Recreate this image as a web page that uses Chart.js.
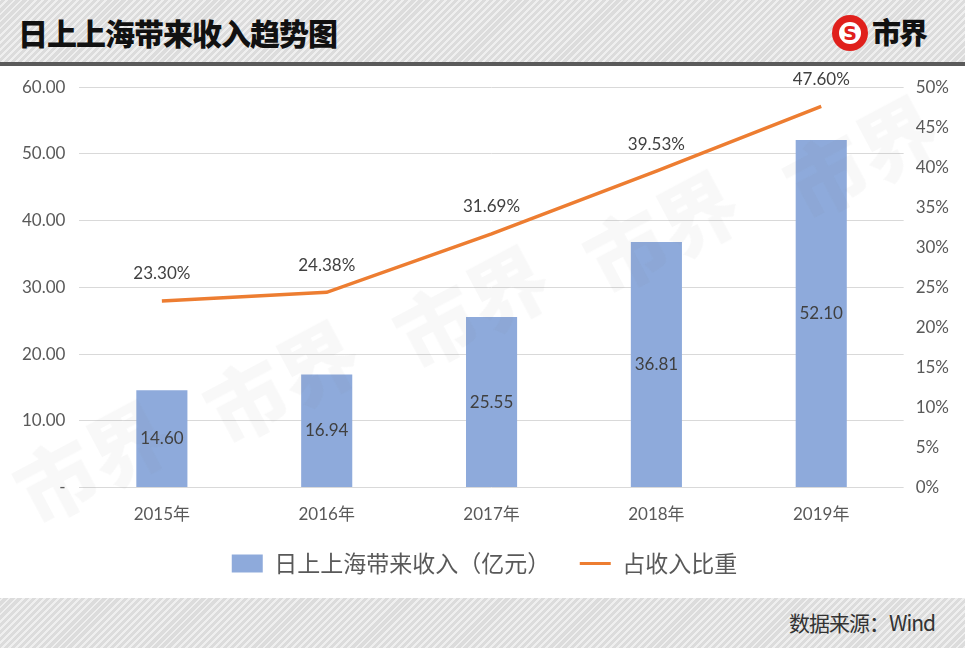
<!DOCTYPE html>
<html>
<head>
<meta charset="utf-8">
<script src="https://cdn.jsdelivr.net/npm/chart.js@4.4.0/dist/chart.umd.min.js"></script>
<style>
  html, body { margin: 0; padding: 0; width: 965px; height: 648px; overflow: hidden; background: #fff; }
  .stripes {
    background-color: #dcdcdc;
    background-image: repeating-linear-gradient(-45deg, rgba(255,255,255,0.55) 0px, rgba(255,255,255,0.55) 2px, rgba(0,0,0,0) 2px, rgba(0,0,0,0) 5px);
  }
  #head { position: absolute; left: 0; top: 0; width: 965px; height: 62px; border-bottom: 4px solid #5a5a5a; }
  #title { position: absolute; left: 18px; top: 10px; font: 900 30px "Noto Sans CJK SC", sans-serif; color: #111; letter-spacing: -1px; }
  #logo { position: absolute; left: 832px; top: 15px; height: 36px; }
  #logo .c { position: absolute; left: 0; top: 0; width: 36px; height: 36px; border-radius: 50%; background: #e0201c; }
  #logo .c span { position: absolute; left: 7px; top: 7px; width: 22px; height: 22px; border-radius: 50%; background: #fff; color: #e0201c; font: bold 19px/22px "DejaVu Sans", sans-serif; text-align: center; }
  #logo .t { position: absolute; left: 40px; top: -5px; font: 900 29px "Noto Sans CJK SC", sans-serif; color: #111; letter-spacing: -2px; white-space: nowrap; }
  #foot { position: absolute; left: 0; top: 598px; width: 965px; height: 50px; }
  #src { position: absolute; right: 30px; top: 9px; font: 21px "Noto Sans CJK SC", sans-serif; color: #333; letter-spacing: -1px; }
  #wrap { position: absolute; left: 0; top: 63px; width: 965px; height: 530px; }
  .wm { position: absolute; font: 900 80px "Noto Sans CJK SC", sans-serif; color: rgba(120,120,120,0.05); transform: rotate(-28deg); white-space: nowrap; pointer-events: none; }
</style>
</head>
<body>
<div id="head" class="stripes">
  <div id="title">日上上海带来收入趋势图</div>
  <div id="logo"><div class="c"><span>S</span></div><div class="t">市界</div></div>
</div>
<div id="wrap"><canvas id="chart"></canvas></div>
<div class="wm" style="left:10px;top:400px;">市界</div>
<div class="wm" style="left:200px;top:320px;">市界</div>
<div class="wm" style="left:390px;top:245px;">市界</div>
<div class="wm" style="left:580px;top:170px;">市界</div>
<div class="wm" style="left:780px;top:95px;">市界</div>
<div id="foot" class="stripes"><div id="src">数据来源：Wind</div></div>
<script>
const categories = ['2015年', '2016年', '2017年', '2018年', '2019年'];
const revenue = [14.60, 16.94, 25.55, 36.81, 52.10];
const share = [23.30, 24.38, 31.69, 39.53, 47.60];
const seriesNames = ['日上上海带来收入（亿元）', '占收入比重'];

const numFont = 'Lato, "Noto Sans CJK SC", sans-serif';

// data labels: bar values centred in the bar, line values above the point
const valueLabels = {
  id: 'valueLabels',
  afterDatasetsDraw(chart) {
    const ctx = chart.ctx;
    ctx.save();
    ctx.font = '17px ' + numFont;
    ctx.fillStyle = '#404040';
    ctx.textAlign = 'center';
    ctx.textBaseline = 'middle';
    chart.getDatasetMeta(1).data.forEach((bar, i) => {
      const mid = (bar.y + bar.base) / 2;
      ctx.fillText(revenue[i].toFixed(2), bar.x, mid);
    });
    chart.getDatasetMeta(0).data.forEach((pt, i) => {
      ctx.fillText(share[i].toFixed(2) + '%', pt.x, pt.y - 27);
    });
    ctx.restore();
  }
};

new Chart(document.getElementById('chart'), {
  data: {
    labels: categories,
    datasets: [
      {
        type: 'line',
        label: seriesNames[1],
        data: share,
        yAxisID: 'y1',
        borderColor: '#ed7d31',
        backgroundColor: '#ed7d31',
        borderWidth: 3.5,
        pointRadius: 0,
        tension: 0,
        order: 0
      },
      {
        type: 'bar',
        label: seriesNames[0],
        data: revenue,
        yAxisID: 'y',
        backgroundColor: '#8eaadb',
        barPercentage: 0.31,
        categoryPercentage: 1,
        order: 1
      }
    ]
  },
  options: {
    responsive: true,
    maintainAspectRatio: false,
    animation: false,
    layout: { padding: { top: 5, left: 8, right: 4, bottom: 8 } },
    scales: {
      x: {
        grid: { display: false },
        border: { display: false },
        ticks: { color: '#595959', font: { size: 17, family: numFont }, padding: 9 }
      },
      y: {
        position: 'left',
        min: 0, max: 60,
        ticks: {
          stepSize: 10,
          color: '#595959',
          font: { size: 17, family: numFont },
          padding: 14,
          callback: v => v === 0 ? '-' : v.toFixed(2)
        },
        grid: { color: '#d9d9d9', drawTicks: false },
        border: { display: false }
      },
      y1: {
        position: 'right',
        min: 0, max: 50,
        ticks: {
          stepSize: 5,
          color: '#595959',
          font: { size: 17, family: numFont },
          padding: 12,
          callback: v => v + '%'
        },
        grid: { display: false, drawTicks: false },
        border: { display: false }
      }
    },
    plugins: {
      tooltip: { enabled: false },
      legend: {
        position: 'bottom',
        reverse: true,
        labels: {
          color: '#595959',
          font: { size: 23, family: '"Noto Sans CJK SC", sans-serif' },
          usePointStyle: true,
          pointStyleWidth: 31,
          boxHeight: 18,
          padding: 18,
          generateLabels(chart) {
            return chart.data.datasets.map((ds, i) => ({
              // full-width space widens the gap between the two items
              text: ds.type === 'bar' ? ds.label + '\u3000' : ds.label,
              fillStyle: ds.backgroundColor,
              strokeStyle: ds.type === 'line' ? ds.borderColor : ds.backgroundColor,
              lineWidth: ds.type === 'line' ? 3 : 0,
              pointStyle: ds.type === 'line' ? 'line' : 'rect',
              fontColor: '#595959',
              datasetIndex: i
            }));
          }
        }
      }
    }
  },
  plugins: [valueLabels]
});
</script>
</body>
</html>
